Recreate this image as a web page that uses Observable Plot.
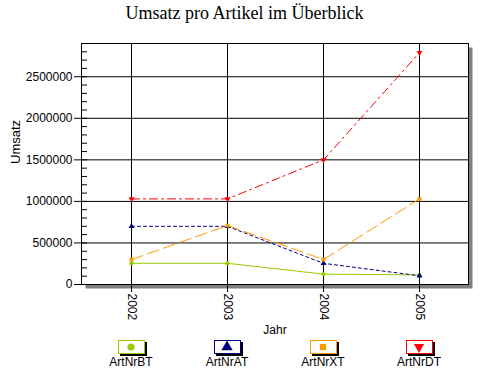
<!DOCTYPE html>
<html><head><meta charset="utf-8">
<script src="https://cdn.jsdelivr.net/npm/d3@7"></script>
<script src="https://cdn.jsdelivr.net/npm/@observablehq/plot@0.6"></script>
<style>
body{margin:0;background:#fff;width:489px;height:370px;overflow:hidden;font-family:"Liberation Sans",Arial,sans-serif;}
#title{height:30px;line-height:26px;text-align:center;font-family:"Liberation Serif","Times New Roman",serif;font-size:18px;color:#000;}
#legend{position:relative;height:30px;}
.item{position:absolute;top:0;width:70px;text-align:center;font-size:12px;}
.box{margin:0 auto;width:25px;height:12px;background:#fff;box-shadow:2px 2px 0 #000;display:flex;align-items:center;justify-content:center;}
.lab{margin-top:2px;line-height:13px;}
</style></head>
<body>
<div id="title">Umsatz pro Artikel im Überblick</div>
<div id="chart"></div>
<div id="legend"></div>
<script>
const years = ["2002", "2003", "2004", "2005"];
const seriesNames = ["ArtNrBT", "ArtNrAT", "ArtNrXT", "ArtNrDT"];
const artNrBT = [255000, 255000, 125000, 115000];
const artNrAT = [700000, 700000, 255000, 105000];
const artNrXT = [300000, 710000, 300000, 1030000];
const artNrDT = [1030000, 1030000, 1500000, 2790000];
const colors = ["#99cc00", "#000080", "#ff9900", "#ff0000"];
const dashes = ["none", "3,3", "12,5", "8,4,2,4"];
const symbols = ["circle", "triangle", "square", "triangle"];
const rotations = [0, 0, 0, 180];
const yMajor = [0, 500000, 1000000, 1500000, 2000000, 2500000];
const yMinor = d3.range(0, 2900001, 100000);

const values = [artNrBT, artNrAT, artNrXT, artNrDT];
const table = seriesNames.flatMap((s, i) => years.map((y, j) => ({series: s, year: y, value: values[i][j]})));

const W = 489, H = 310, mL = 81, mR = 21, mT = 13, mB = 56;
const frameW = W - mL - mR;

const marks = [
  Plot.frame({fill: "#808080", dx: 4, dy: 4}),
  Plot.frame({fill: "white"}),
  Plot.gridY(yMajor, {stroke: "black", strokeOpacity: 1}),
  Plot.gridX(years, {stroke: "black", strokeOpacity: 1}),
  Plot.tickY(yMinor, {y: d => d, insetRight: frameW - 6, stroke: "black"}),
  Plot.axisY(yMajor, {tickSize: 7, tickPadding: 2, tickFormat: d3.format("d"), label: null}),
  Plot.axisX(years, {tickRotate: 90, tickSize: 8, tickPadding: 1, label: null})
];
seriesNames.forEach((s, i) => {
  const d = table.filter(r => r.series === s);
  marks.push(Plot.line(d, {x: "year", y: "value", stroke: colors[i], strokeWidth: 1, strokeDasharray: dashes[i]}));
  marks.push(Plot.dot(d, {x: "year", y: "value", symbol: symbols[i], fill: colors[i], r: 2.2, rotate: rotations[i]}));
});
marks.push(Plot.frame({stroke: "black"}));
marks.push(Plot.text(["Umsatz"], {frameAnchor: "left", dx: -66, rotate: -90, fontSize: 13, fill: "black"}));
marks.push(Plot.text(["Jahr"], {frameAnchor: "bottom", dy: 49, fontSize: 12, fill: "black"}));

const plot = Plot.plot({
  width: W, height: H,
  marginLeft: mL, marginRight: mR, marginTop: mT, marginBottom: mB,
  style: {fontFamily: "Liberation Sans, Arial, sans-serif", fontSize: "12px", background: "white", color: "black"},
  x: {type: "point", domain: years, padding: 0.5, axis: null},
  y: {domain: [0, 2900000], axis: null},
  marks
});
document.getElementById("chart").appendChild(plot);

const xs = plot.scale("x");
const legend = document.getElementById("legend");
seriesNames.forEach((s, i) => {
  const cx = xs.apply(years[i]);
  const item = document.createElement("div");
  item.className = "item";
  item.style.left = (cx - 35) + "px";
  const box = document.createElement("div");
  box.className = "box";
  box.style.border = "1px solid " + colors[i];
  const sym = d3.symbol().type(
    i === 0 ? d3.symbolCircle : i === 2 ? d3.symbolSquare : d3.symbolTriangle
  ).size(i === 1 ? 55 : i === 3 ? 45 : 40)();
  box.innerHTML = `<svg width="14" height="12" viewBox="-7 -6 14 12"><path d="${sym}" fill="${colors[i]}" transform="rotate(${rotations[i]})"/></svg>`;
  const lab = document.createElement("div");
  lab.className = "lab";
  lab.textContent = s;
  item.appendChild(box);
  item.appendChild(lab);
  legend.appendChild(item);
});
</script>
</body></html>
